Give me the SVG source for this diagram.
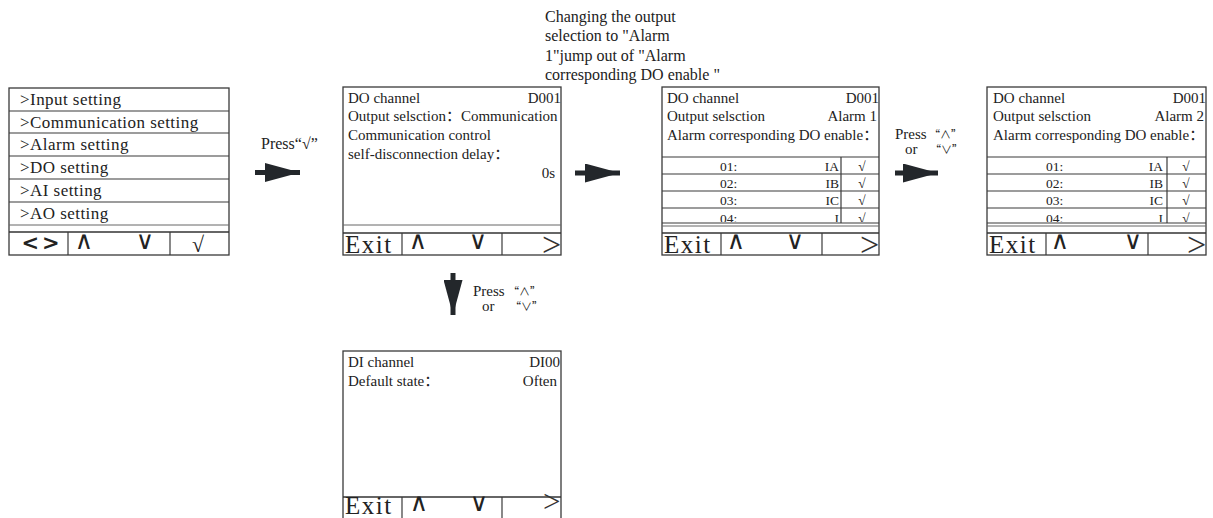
<svg xmlns="http://www.w3.org/2000/svg" width="1213" height="518" viewBox="0 0 1213 518">
<style>
.frame{fill:#fff;stroke:#3a3a3a;stroke-width:1.3}
.ln{stroke:#3a3a3a;stroke-width:1.2;fill:none}
.thin{stroke:#666;stroke-width:1;fill:none}
.bar{stroke:#333;stroke-width:1.6;fill:none}
.t{font-family:"Liberation Serif","Noto Sans CJK SC",serif;fill:#222}
.menu{font-size:17px;letter-spacing:0.45px}
.s15{font-size:15px}
.row{font-size:13.5px}
.exit{font-size:25px;letter-spacing:1.5px}
.sym{font-family:"DejaVu Sans",sans-serif;font-size:25px;fill:#222;text-anchor:middle}
.lr{font-family:"DejaVu Sans",sans-serif;font-weight:bold;font-size:21px;letter-spacing:3px;fill:#222;text-anchor:middle}
.chev{font-family:"Liberation Serif",serif;font-size:34px;fill:#333}
.q{font-family:"Noto Sans CJK SC",sans-serif;font-size:11px;fill:#222}
.lbl{font-size:16px}
.lbl2{font-size:15px}
.note{font-size:16px}
.arr{stroke:#23272b;stroke-width:5;fill:none}
.end{text-anchor:end}
.mid{text-anchor:middle}
</style>
<defs>
<marker id="ah" viewBox="0 0 35 19" refX="35" refY="9.5" markerWidth="35" markerHeight="19" markerUnits="userSpaceOnUse" orient="auto">
<path d="M0,0 L35,9.5 L0,19 Z" fill="#23272b"/>
</marker>
<clipPath id="c3"><rect x="662" y="208" width="217" height="14"/></clipPath>
<clipPath id="c4"><rect x="987" y="208" width="219" height="14"/></clipPath>
</defs>

<g id="node-menu">
<rect class="frame" x="9" y="88" width="220" height="167"/>
<line class="ln" x1="9" y1="111" x2="229" y2="111"/>
<line class="ln" x1="9" y1="133" x2="229" y2="133"/>
<line class="ln" x1="9" y1="156" x2="229" y2="156"/>
<line class="ln" x1="9" y1="179" x2="229" y2="179"/>
<line class="ln" x1="9" y1="202" x2="229" y2="202"/>
<line class="thin" x1="9" y1="225" x2="229" y2="225"/>
<line class="bar" x1="9" y1="232" x2="229" y2="232"/>
<line class="ln" x1="68" y1="232" x2="68" y2="255"/>
<line class="ln" x1="170" y1="232" x2="170" y2="255"/>
<text class="t menu" x="20" y="105">&gt;Input setting</text>
<text class="t menu" x="20" y="128">&gt;Communication setting</text>
<text class="t menu" x="20" y="150">&gt;Alarm setting</text>
<text class="t menu" x="20" y="173">&gt;DO setting</text>
<text class="t menu" x="20" y="196">&gt;AI setting</text>
<text class="t menu" x="20" y="219">&gt;AO setting</text>
<text class="lr" x="42" y="250">&lt;&gt;</text>
<text class="sym" x="84" y="249">∧</text>
<text class="sym" x="145" y="249">∨</text>
<text class="t mid" x="198" y="252" style="font-size:22px">√</text>
</g>

<g id="node-do-comm">
<rect class="frame" x="343" y="87" width="218" height="168"/>
<line class="thin" x1="343" y1="225" x2="561" y2="225"/>
<line class="bar" x1="343" y1="233" x2="561" y2="233"/>
<line class="ln" x1="402" y1="233" x2="402" y2="255"/>
<line class="ln" x1="502" y1="233" x2="502" y2="255"/>
<text class="t s15" x="348" y="103">DO channel</text>
<text class="t s15 end" x="561" y="103">D001</text>
<text class="t s15" x="348" y="121">Output selsction：Communication</text>
<text class="t s15" x="348" y="140">Communication control</text>
<text class="t s15" x="348" y="159">self-disconnection delay：</text>
<text class="t s15 end" x="555" y="178">0s</text>
<text class="t exit" x="345" y="253">Exit</text>
<text class="sym" x="418" y="249">∧</text>
<text class="sym" x="478" y="249">∨</text>
<text class="t chev" x="542" y="256">&gt;</text>
</g>

<g id="node-do-alarm1">
<rect class="frame" x="662" y="87" width="217" height="168"/>
<text class="t s15" x="667" y="103">DO channel</text>
<text class="t s15 end" x="879" y="103">D001</text>
<text class="t s15" x="667" y="121">Output selsction</text>
<text class="t s15 end" x="877" y="121">Alarm 1</text>
<text class="t s15" x="667" y="140">Alarm corresponding DO enable：</text>
<line class="ln" x1="662" y1="157" x2="879" y2="157"/>
<line class="ln" x1="662" y1="174" x2="879" y2="174"/>
<line class="ln" x1="662" y1="191" x2="879" y2="191"/>
<line class="ln" x1="662" y1="208" x2="879" y2="208"/>
<line class="ln" x1="662" y1="223" x2="879" y2="223"/>
<line class="thin" x1="662" y1="226" x2="879" y2="226"/>
<line class="ln" x1="841" y1="157" x2="841" y2="223"/>
<text class="t row" x="720" y="171">01:</text><text class="t row end" x="839" y="171">IA</text><text class="t row mid" x="862" y="171">√</text>
<text class="t row" x="720" y="188">02:</text><text class="t row end" x="839" y="188">IB</text><text class="t row mid" x="862" y="188">√</text>
<text class="t row" x="720" y="205">03:</text><text class="t row end" x="839" y="205">IC</text><text class="t row mid" x="862" y="205">√</text>
<g clip-path="url(#c3)"><text class="t row" x="720" y="223">04:</text><text class="t row end" x="839" y="223">I</text><text class="t row mid" x="862" y="223">√</text></g>
<line class="bar" x1="662" y1="233" x2="879" y2="233"/>
<line class="ln" x1="721" y1="233" x2="721" y2="255"/>
<line class="ln" x1="822" y1="233" x2="822" y2="255"/>
<text class="t exit" x="664" y="253">Exit</text>
<text class="sym" x="736" y="249">∧</text>
<text class="sym" x="795" y="249">∨</text>
<text class="t chev" x="860" y="256">&gt;</text>
</g>

<g id="node-do-alarm2">
<rect class="frame" x="987" y="87" width="219" height="168"/>
<text class="t s15" x="993" y="103">DO channel</text>
<text class="t s15 end" x="1206" y="103">D001</text>
<text class="t s15" x="993" y="121">Output selsction</text>
<text class="t s15 end" x="1204" y="121">Alarm 2</text>
<text class="t s15" x="993" y="140">Alarm corresponding DO enable：</text>
<line class="ln" x1="987" y1="157" x2="1206" y2="157"/>
<line class="ln" x1="987" y1="174" x2="1206" y2="174"/>
<line class="ln" x1="987" y1="191" x2="1206" y2="191"/>
<line class="ln" x1="987" y1="208" x2="1206" y2="208"/>
<line class="ln" x1="987" y1="223" x2="1206" y2="223"/>
<line class="thin" x1="987" y1="226" x2="1206" y2="226"/>
<line class="ln" x1="1167" y1="157" x2="1167" y2="223"/>
<text class="t row" x="1046" y="171">01:</text><text class="t row end" x="1163" y="171">IA</text><text class="t row mid" x="1186" y="171">√</text>
<text class="t row" x="1046" y="188">02:</text><text class="t row end" x="1163" y="188">IB</text><text class="t row mid" x="1186" y="188">√</text>
<text class="t row" x="1046" y="205">03:</text><text class="t row end" x="1163" y="205">IC</text><text class="t row mid" x="1186" y="205">√</text>
<g clip-path="url(#c4)"><text class="t row" x="1046" y="223">04:</text><text class="t row end" x="1163" y="223">I</text><text class="t row mid" x="1186" y="223">√</text></g>
<line class="bar" x1="987" y1="233" x2="1206" y2="233"/>
<line class="ln" x1="1046" y1="233" x2="1046" y2="255"/>
<line class="ln" x1="1148" y1="233" x2="1148" y2="255"/>
<text class="t exit" x="989" y="253">Exit</text>
<text class="sym" x="1060" y="249">∧</text>
<text class="sym" x="1133" y="249">∨</text>
<text class="t chev" x="1187" y="256">&gt;</text>
</g>

<g id="node-di">
<rect class="frame" x="343" y="351" width="218" height="168"/>
<line class="bar" x1="343" y1="497" x2="561" y2="497"/>
<line class="ln" x1="402" y1="497" x2="402" y2="519"/>
<line class="ln" x1="502" y1="497" x2="502" y2="519"/>
<text class="t s15" x="348" y="367">DI channel</text>
<text class="t s15 end" x="560" y="367">DI00</text>
<text class="t s15" x="348" y="386">Default state：</text>
<text class="t s15 end" x="557" y="386">Often</text>
<text class="t exit" x="345" y="514">Exit</text>
<text class="sym" x="419" y="511">∧</text>
<text class="sym" x="479" y="511">∨</text>
<text class="t chev" x="543" y="512" style="font-size:31px">&gt;</text>
</g>

<g id="connectors">
<line class="arr" x1="255" y1="172.5" x2="300" y2="172.5" marker-end="url(#ah)"/>
<line class="arr" x1="575" y1="173" x2="620" y2="173" marker-end="url(#ah)"/>
<line class="arr" x1="895" y1="173" x2="938" y2="173" marker-end="url(#ah)"/>
<line class="arr" x1="453" y1="273" x2="453" y2="315" marker-end="url(#ah)"/>
<text class="t lbl" x="261" y="149">Press“√”</text>
<text class="t lbl2" x="895" y="139">Press</text>
<text class="q" x="929" y="139">“∧”</text>
<text class="t lbl2" x="905" y="154">or</text>
<text class="q" x="930" y="154">“∨”</text>
<text class="t lbl2" x="473" y="296">Press</text>
<text class="q" x="508" y="296">“∧”</text>
<text class="t lbl2" x="482" y="311">or</text>
<text class="q" x="510" y="311">“∨”</text>
<text class="t note" x="545" y="22">Changing the output</text>
<text class="t note" x="545" y="41">selection to "Alarm</text>
<text class="t note" x="545" y="61">1"jump out of "Alarm</text>
<text class="t note" x="545" y="80">corresponding DO enable "</text>
</g>
</svg>
